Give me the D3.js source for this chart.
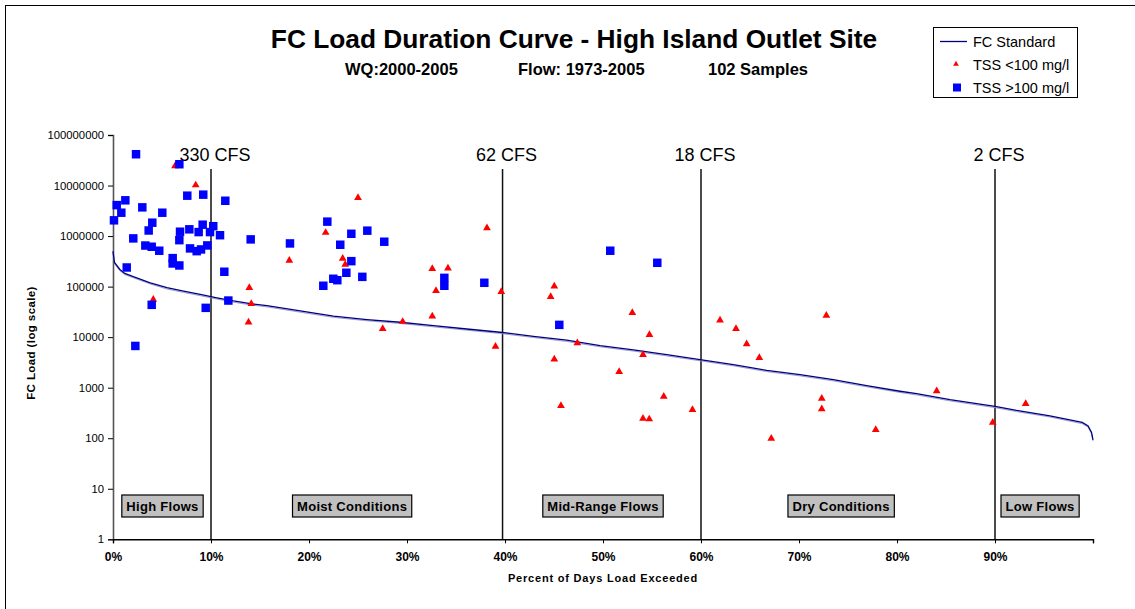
<!DOCTYPE html>
<html>
<head>
<meta charset="utf-8">
<script src="https://cdn.jsdelivr.net/npm/d3@7"></script>
<style>
  body { margin: 0; background: #fff; }
  svg { display: block; }
  text { font-family: "Liberation Sans", Arial, Helvetica, sans-serif; fill: #000; }
</style>
</head>
<body>
<svg id="chart" width="1135" height="609"></svg>
<script>
// FC standard load duration curve: percent of days exceeded vs allowable load
const standardPct  = [0, 0.15, 0.7, 1.2, 2, 3.8, 5.5, 7.2, 8.9, 10.6, 12.3, 14, 15.7, 19.1, 22.5, 25.9, 29.3, 32.7, 36.1, 39.5, 42.9, 46.3, 49.7, 53.1, 56.5, 59.9, 63.3, 66.7, 70.1, 73.5, 76.9, 80.3, 82, 85.4, 90, 92.2, 95.6, 98.9, 99.5, 99.85, 100];
const standardLoad = [500000, 300000, 218000, 182000, 160000, 119000, 95000, 81000, 70000, 60000, 52000, 46000, 42000, 33000, 26000, 22300, 19700, 16900, 14500, 12500, 10400, 8700, 6800, 5600, 4500, 3600, 2860, 2200, 1810, 1440, 1100, 850, 760, 580, 426, 355, 278, 205, 175, 130, 93];

// Samples with TSS < 100 mg/l
const lowTssPct  = [8.44, 6.33, 4.11, 13.91, 14.11, 13.83, 17.99, 21.70, 23.44, 23.70, 25.00, 32.58, 34.18, 32.96, 38.16, 39.62, 32.58, 29.56, 27.52, 39.03, 45.03, 44.66, 52.99, 54.74, 47.38, 54.08, 45.03, 51.65, 45.71, 56.20, 59.13, 54.08, 54.72, 61.94, 63.57, 64.66, 65.95, 72.79, 72.32, 72.32, 67.17, 77.83, 84.05, 89.77, 93.13];
const lowTssLoad = [10200000, 24400000, 55500, 94700, 45600, 19700, 329000, 1170000, 361000, 274000, 5760000, 225000, 232000, 82600, 1450000, 78900, 25900, 20300, 14600, 6550, 102000, 62800, 30300, 11200, 7690, 4470, 3640, 2070, 440, 671, 366, 246, 239, 21600, 14600, 7350, 3930, 26700, 613, 378, 99, 147, 860, 205, 481];

// Samples with TSS > 100 mg/l
const highTssPct  = [2.35, 6.77, 0.10, 0.38, 1.26, 0.85, 2.99, 5.03, 4.01, 3.64, 2.07, 3.30, 3.95, 4.72, 6.09, 6.09, 6.77, 1.40, 7.58, 9.21, 11.46, 6.84, 6.77, 7.79, 8.74, 9.15, 9.90, 10.23, 10.92, 7.86, 8.54, 8.98, 9.62, 14.05, 18.06, 11.36, 11.77, 3.95, 9.46, 2.28, 21.87, 24.32, 25.95, 27.68, 23.19, 24.32, 23.81, 25.44, 21.46, 22.48, 22.89, 33.81, 33.81, 37.89, 50.74, 55.54, 45.54];
const highTssLoad = [41600000, 26400000, 2050000, 4100000, 5100000, 2900000, 3700000, 2900000, 1840000, 1290000, 900000, 650000, 615000, 513000, 366000, 287000, 262000, 239000, 6300000, 6600000, 5000000, 1220000, 830000, 1360000, 1200000, 1680000, 1200000, 1570000, 1040000, 570000, 503000, 544000, 653000, 860000, 715000, 197000, 53000, 43600, 38000, 6700, 1930000, 1110000, 1280000, 773000, 674000, 319000, 188000, 156000, 104000, 143000, 134000, 149000, 104000, 119000, 513000, 296000, 17500];

// Flow thresholds separating the hydrologic zones
const flowPct    = [10, 39.75, 60, 90];
const flowLabels = ["330 CFS", "62 CFS", "18 CFS", "2 CFS"];

// Hydrologic condition zones (label centre in percent of days)
const zoneNames   = ["High Flows", "Moist Conditions", "Mid-Range Flows", "Dry Conditions", "Low Flows"];
const zoneCenters = [5.05, 24.4, 50, 74.3, 94.6];

// Axis ticks
const xTicks = [0, 10, 20, 30, 40, 50, 60, 70, 80, 90, 100];
const xTickLabels = ["0%", "10%", "20%", "30%", "40%", "50%", "60%", "70%", "80%", "90%", ""];
const yTicks = [1, 10, 100, 1000, 10000, 100000, 1000000, 10000000, 100000000];

const svg = d3.select("#chart");

const plot = { left: 113, right: 1093, top: 135, bottom: 539.3 };
const x = d3.scaleLinear().domain([0, 100]).range([plot.left, plot.right]);
const y = d3.scaleLog().domain([1, 1e8]).range([plot.bottom, plot.top]);

// outer chart frame
svg.append("rect")
  .attr("x", 5.5).attr("y", 5.5)
  .attr("width", 1200).attr("height", 700)
  .attr("fill", "none").attr("stroke", "#000").attr("stroke-width", 1);

// titles
svg.append("text")
  .attr("x", 574).attr("y", 48)
  .attr("text-anchor", "middle")
  .style("font-size", "26.3px").style("font-weight", "bold")
  .text("FC Load Duration Curve - High Island Outlet Site");

const subtitle = svg.append("text")
  .attr("y", 75)
  .style("font-size", "16.5px").style("font-weight", "bold");
subtitle.append("tspan").attr("x", 345).text("WQ:2000-2005");
subtitle.append("tspan").attr("x", 518).text("Flow: 1973-2005");
subtitle.append("tspan").attr("x", 708).text("102 Samples");

// y axis
const yAxis = d3.axisLeft(y)
  .tickValues(yTicks)
  .tickFormat(d3.format("d"))
  .tickSize(5)
  .tickPadding(4);
const gy = svg.append("g")
  .attr("transform", `translate(${plot.left},0)`)
  .call(yAxis);
gy.select(".domain").attr("stroke", "#555").attr("stroke-width", 1.6);
gy.selectAll(".tick line").attr("stroke", "#000");
gy.selectAll(".tick text")
  .style("font-size", "11.3px")
  .style("font-family", "'Liberation Sans', Arial, sans-serif");

// x axis
const xAxis = d3.axisBottom(x)
  .tickValues(xTicks)
  .tickFormat((d, i) => xTickLabels[i])
  .tickSize(4)
  .tickPadding(9);
const gx = svg.append("g")
  .attr("transform", `translate(0,${plot.bottom})`)
  .call(xAxis);
gx.select(".domain").attr("stroke", "#000").attr("stroke-width", 1.4);
gx.selectAll(".tick line").attr("stroke", "#000");
gx.selectAll(".tick text")
  .style("font-size", "12px").style("font-weight", "bold")
  .style("font-family", "'Liberation Sans', Arial, sans-serif");

// axis titles
svg.append("text")
  .attr("transform", "translate(35,343) rotate(-90)")
  .attr("text-anchor", "middle")
  .style("font-size", "11.5px").style("font-weight", "bold")
  .style("letter-spacing", "0.4px")
  .text("FC Load (log scale)");

svg.append("text")
  .attr("x", 603).attr("y", 582)
  .attr("text-anchor", "middle")
  .style("font-size", "11px").style("font-weight", "bold")
  .style("letter-spacing", "0.8px")
  .text("Percent of Days Load Exceeded");

// flow threshold lines and labels
svg.append("g").selectAll("line")
  .data(flowPct)
  .join("line")
  .attr("x1", d => x(d)).attr("x2", d => x(d))
  .attr("y1", 169).attr("y2", plot.bottom)
  .attr("stroke", "#111").attr("stroke-width", 1.5);

svg.append("g").selectAll("text")
  .data(flowPct)
  .join("text")
  .attr("x", d => x(d) + 4)
  .attr("y", 161)
  .attr("text-anchor", "middle")
  .style("font-size", "18px")
  .text((d, i) => flowLabels[i]);

// zone labels in grey boxes
const zones = svg.append("g").selectAll("g")
  .data(zoneNames)
  .join("g")
  .attr("transform", (d, i) => `translate(${x(zoneCenters[i])},506)`);
zones.append("text")
  .attr("text-anchor", "middle")
  .attr("y", 5)
  .style("font-size", "13px").style("font-weight", "bold")
  .style("letter-spacing", "0.3px")
  .text(d => d);
zones.each(function () {
  const g = d3.select(this);
  const bb = g.select("text").node().getBBox();
  g.insert("rect", "text")
    .attr("x", bb.x - 4.5).attr("y", -11)
    .attr("width", bb.width + 9).attr("height", 22)
    .attr("fill", "#c0c0c0").attr("stroke", "#000").attr("stroke-width", 1.2);
});

// FC standard curve
const line = d3.line()
  .x((d, i) => x(standardPct[i]))
  .y((d, i) => y(standardLoad[i]));
svg.append("path")
  .datum(standardLoad)
  .attr("d", line)
  .attr("fill", "none")
  .attr("stroke", "#9a9ad0").attr("stroke-width", 1)
  .attr("transform", "translate(0,1.2)");
svg.append("path")
  .datum(standardLoad)
  .attr("d", line)
  .attr("fill", "none")
  .attr("stroke", "#000080").attr("stroke-width", 1.3);

// sample markers: triangles below, squares on top
const tri = d3.symbol().type(d3.symbolTriangle).size(26);
svg.append("g").selectAll("path")
  .data(lowTssLoad)
  .join("path")
  .attr("d", tri)
  .attr("transform", (d, i) => `translate(${x(lowTssPct[i])},${y(d)})`)
  .attr("fill", "#ff0000");

const sq = d3.symbol().type(d3.symbolSquare).size(72);
svg.append("g").selectAll("path")
  .data(highTssLoad)
  .join("path")
  .attr("d", sq)
  .attr("transform", (d, i) => `translate(${x(highTssPct[i])},${y(d)})`)
  .attr("fill", "#0000ff");

// legend
const lg = svg.append("g");
lg.append("rect")
  .attr("x", 933.5).attr("y", 27.5)
  .attr("width", 144).attr("height", 70)
  .attr("fill", "#fff").attr("stroke", "#000").attr("stroke-width", 1);
lg.append("line")
  .attr("x1", 940).attr("x2", 967).attr("y1", 41.5).attr("y2", 41.5)
  .attr("stroke", "#000080").attr("stroke-width", 1.3);
lg.append("path")
  .attr("d", d3.symbol().type(d3.symbolTriangle).size(14))
  .attr("transform", "translate(956,64)")
  .attr("fill", "#ff0000");
lg.append("path")
  .attr("d", d3.symbol().type(d3.symbolSquare).size(64))
  .attr("transform", "translate(957,87.5)")
  .attr("fill", "#0000ff");
const legendLabels = ["FC Standard", "TSS <100 mg/l", "TSS >100 mg/l"];
lg.selectAll("text.item")
  .data(legendLabels)
  .join("text")
  .attr("class", "item")
  .attr("x", 973)
  .attr("y", (d, i) => 46.5 + i * 23)
  .style("font-size", "14.5px")
  .text(d => d);
</script>
</body>
</html>
